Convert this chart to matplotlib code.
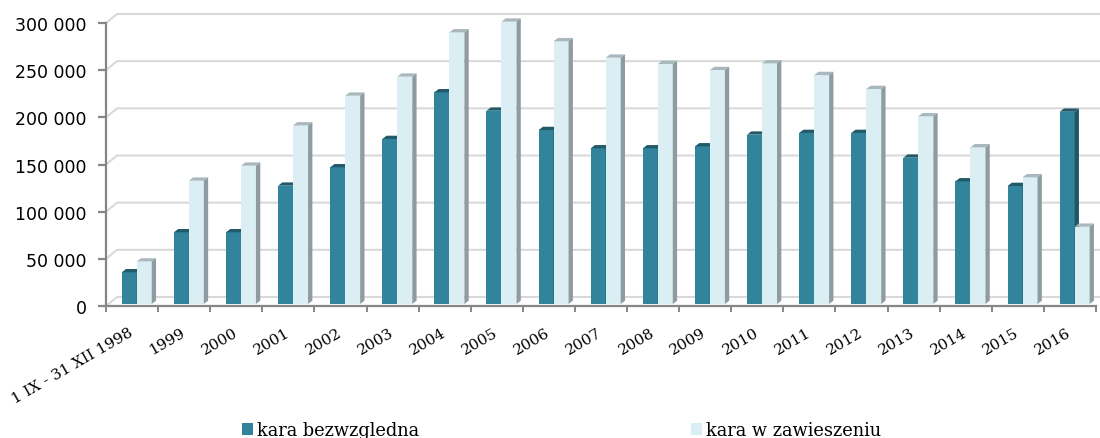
import matplotlib
matplotlib.use("Agg")
import matplotlib.pyplot as plt
from matplotlib.patches import Polygon, Patch

# data
categories = ["1 IX - 31 XII 1998", "1999", "2000", "2001", "2002", "2003",
              "2004", "2005", "2006", "2007", "2008", "2009", "2010", "2011",
              "2012", "2013", "2014", "2015", "2016"]
bezwzgledna = [33600, 76000, 76000, 125400, 144900, 174900, 224400, 204900,
               184400, 165000, 165000, 167100, 179500, 181300, 181300, 155100,
               130000, 125100, 203800]
zawieszenie = [45000, 130700, 146600, 189300, 220800, 241000, 288000, 299300,
               278500, 261100, 254400, 248000, 255100, 242700, 227900, 199000,
               166100, 134300, 81900]
yticks = [0, 50000, 100000, 150000, 200000, 250000, 300000]
series_names = ["kara bezwzgledna", "kara w zawieszeniu"]

# colours: front, top, side
DARK = ("#31849b", "#215a69", "#1f5766")
LIGHT = ("#daeef3", "#a9b8be", "#8e9ba1")
GRID = "#d9d9d9"
AXIS = "#868686"

W, H = 1100, 439
fig = plt.figure(figsize=(W / 100, H / 100), dpi=100)

# pixel layout of the plot box
left_px, right_px = 106, 1096
zero_px, top_val_px, top_px = 307, 24, 5
n = len(categories)
ymax = 300000 * (zero_px - top_px) / (zero_px - top_val_px)
ax = fig.add_axes([left_px / W, (H - zero_px) / H,
                   (right_px - left_px) / W, (zero_px - top_px) / H])
ax.set_xlim(-0.5, n - 0.5)
ax.set_ylim(0, ymax)

# pixel -> data conversions for the fake depth
xpp = n / (right_px - left_px)
ypp = 300000 / (zero_px - top_val_px)

# back wall gridlines
wall_dx, wall_dy = 11 * xpp, 9 * ypp
for v in yticks:
    ax.plot([-0.5, -0.5 + wall_dx, n - 0.5 + 10 * xpp],
            [v, v + wall_dy, v + wall_dy],
            color=GRID, lw=1.5, zorder=1, clip_on=False,
            solid_capstyle="butt")

# bars with a little depth
bar_w = 15 * xpp
shift_x, shift_y = 5 * xpp, 2 * ypp
dep_x, dep_y = 4.3 * xpp, 3.3 * ypp


def draw_bar(x0, v, cols, z):
    x1 = x0 + bar_w
    b = shift_y
    ax.add_patch(Polygon([(x0, b), (x1, b), (x1, b + v), (x0, b + v)],
                         closed=True, fc=cols[0], ec="none", zorder=z))
    ax.add_patch(Polygon([(x0, b + v), (x1, b + v),
                          (x1 + dep_x, b + v + dep_y),
                          (x0 + dep_x, b + v + dep_y)],
                         closed=True, fc=cols[1], ec="none", zorder=z))
    ax.add_patch(Polygon([(x1, b), (x1 + dep_x, b + dep_y),
                          (x1 + dep_x, b + v + dep_y), (x1, b + v)],
                         closed=True, fc=cols[2], ec="none", zorder=z))


for i in range(n):
    start = i - 10.3 * xpp + shift_x - 5 * xpp
    draw_bar(start, bezwzgledna[i], DARK, 2)
    draw_bar(start + bar_w, zawieszenie[i], LIGHT, 3)

# axes look
for s in ("top", "right"):
    ax.spines[s].set_visible(False)
ax.spines["left"].set_bounds(0, 300000)
for s in ("left", "bottom"):
    ax.spines[s].set_color(AXIS)
    ax.spines[s].set_linewidth(1.6)
    ax.spines[s].set_zorder(5)

ax.set_yticks(yticks,
              labels=[f"{v:,}".replace(",", " ") for v in yticks],
              fontsize=12.5, family="DejaVu Sans")
ax.tick_params(axis="y", direction="out", length=6, width=1.6,
               color=AXIS, pad=8)

ax.set_xticks(range(n), labels=categories, rotation=30, ha="right",
              va="center", rotation_mode="anchor", fontsize=11,
              family="DejaVu Serif")
ax.set_xticks([i - 0.5 for i in range(n + 1)], minor=True)
ax.tick_params(axis="x", which="major", length=0, pad=18)
ax.tick_params(axis="x", which="minor", direction="out", length=4,
               width=1.4, color=AXIS)

handles = [Patch(fc=DARK[0], ec="none"), Patch(fc=LIGHT[0], ec="none")]
fig.legend(handles, series_names, loc="center left",
           bbox_to_anchor=(242 / W, (H - 431) / H), ncol=2, frameon=False,
           prop={"family": "DejaVu Serif", "size": 12.8},
           handlelength=0.62, handleheight=0.62, handletextpad=0.22,
           columnspacing=15.3, borderpad=0, borderaxespad=0)

fig.savefig("out.png", dpi=100)
